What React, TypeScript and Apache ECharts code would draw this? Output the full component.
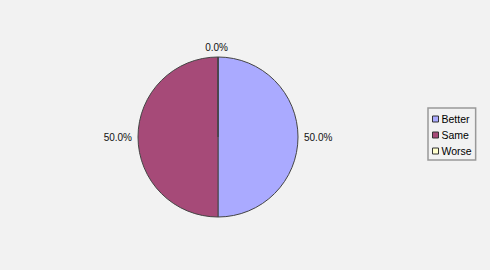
import React, { useEffect, useRef } from "react";
import * as echarts from "echarts";

const categories = ["Better", "Same", "Worse"];
const values = [50, 50, 0];
const colors = ["#aaaaff", "#a64a78", "#ffffcc"];

export default function App() {
  const ref = useRef<HTMLDivElement>(null);
  useEffect(() => {
    document.body.style.margin = "0";
    const chart = echarts.init(ref.current!, null, { renderer: "svg" });
    const total = values.reduce((a, b) => a + b, 0);
    chart.setOption({
      animation: false,
      backgroundColor: "#f2f2f2",
      textStyle: { fontFamily: "Liberation Sans, Arial, sans-serif" },
      legend: {
        orient: "vertical",
        left: 428,
        top: 108,
        padding: [5, 4, 3, 4],
        itemGap: 4,
        itemWidth: 6,
        itemHeight: 6,
        icon: "rect",
        borderColor: "#999",
        borderWidth: 1.5,
        textStyle: { fontSize: 10.5, lineHeight: 12, color: "#000", padding: [0, 0, 0, -2] },
        data: categories,
        itemStyle: { borderColor: "#333", borderWidth: 1 },
      },
      series: [
        {
          type: "pie",
          center: [218, 137],
          radius: 80,
          startAngle: 90,
          clockwise: true,
          data: categories.map((c, i) => ({
            name: c,
            value: values[i],
            itemStyle: { color: colors[i] },
            ...(values[i] === 0
              ? { label: { offset: [15, 0] }, labelLine: { length: 10, length2: 0 } }
              : {}),
          })),
          itemStyle: { borderColor: "#444", borderWidth: 1 },
          label: {
            show: true,
            position: "outside",
            fontSize: 10,
            color: "#111",
            formatter: (p: any) => ((p.value / total) * 100).toFixed(1) + "%",
          },
          labelLine: { show: false, length: 1, length2: 0 },
          emphasis: { disabled: true },
        },
      ],
    });
    return () => chart.dispose();
  }, []);
  return <div ref={ref} style={{ width: 490, height: 270 }} />;
}
